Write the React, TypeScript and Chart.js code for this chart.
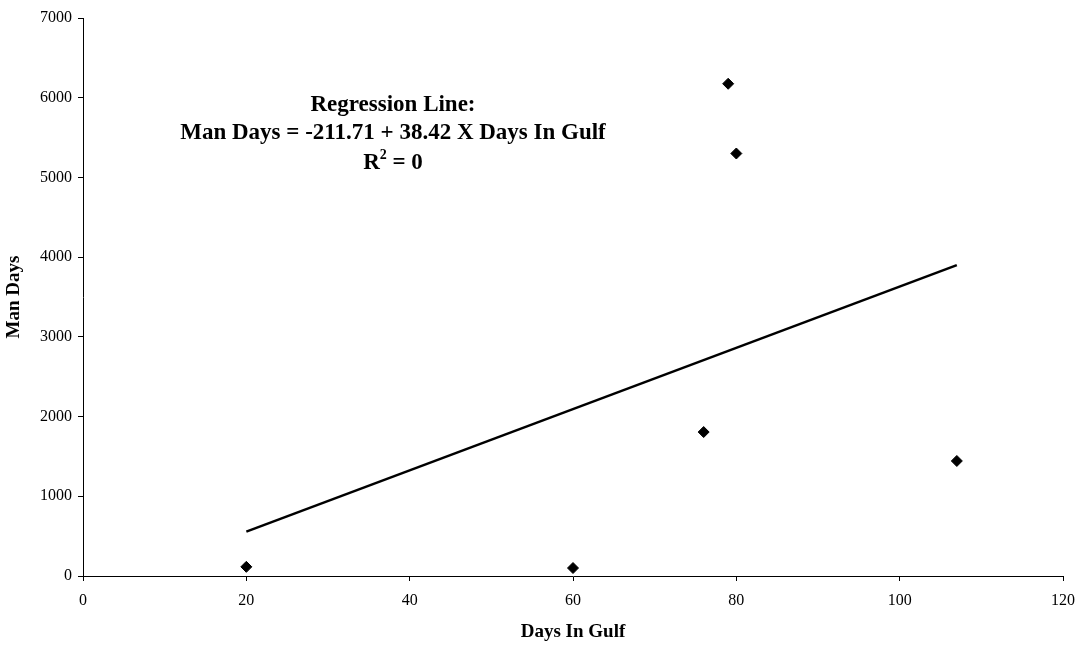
import React, { useEffect, useRef } from "react";
import { Chart, registerables } from "chart.js";

Chart.register(...registerables);

const daysInGulf = [20, 60, 76, 79, 80, 107];
const manDays = [115, 100, 1806, 6175, 5300, 1443];
const intercept = -211.71;
const slope = 38.42;
const lineXs = [20, 107];
const annotationLines = ["Regression Line:", "Man Days = -211.71 + 38.42 X Days In Gulf"];
const rSquaredText = ["R", "2", " = 0"];

const FONT = "'Liberation Serif', 'Times New Roman', serif";

const annotationPlugin = {
  id: "regAnnotation",
  afterDraw(chart: any) {
    const ctx = chart.ctx;
    const cx = 393;
    ctx.save();
    ctx.fillStyle = "#000";
    ctx.textAlign = "center";
    ctx.textBaseline = "middle";
    const big = `bold 23px ${FONT}`;
    const small = `bold 14px ${FONT}`;
    ctx.font = big;
    ctx.fillText(annotationLines[0], cx, 105);
    ctx.fillText(annotationLines[1], cx, 133);
    ctx.font = big;
    const wR = ctx.measureText(rSquaredText[0]).width;
    const wEq = ctx.measureText(rSquaredText[2]).width;
    ctx.font = small;
    const w2 = ctx.measureText(rSquaredText[1]).width;
    let x = cx - (wR + w2 + wEq) / 2;
    ctx.textAlign = "left";
    ctx.font = big;
    ctx.fillText(rSquaredText[0], x, 163);
    x += wR;
    ctx.font = small;
    ctx.fillText(rSquaredText[1], x, 155);
    x += w2;
    ctx.font = big;
    ctx.fillText(rSquaredText[2], x, 163);
    ctx.restore();
  },
};

export default function App() {
  const ref = useRef<HTMLCanvasElement>(null);
  useEffect(() => {
    if (!ref.current) return;
    const chart = new Chart(ref.current, {
      type: "scatter",
      data: {
        datasets: [
          {
            type: "scatter",
            label: "Man Days",
            data: daysInGulf.map((d, i) => ({ x: d, y: manDays[i] })),
            pointStyle: "rectRot",
            pointRadius: 5.5,
            backgroundColor: "#000",
            borderColor: "#000",
            borderWidth: 1,
          },
          {
            type: "line",
            label: "Regression",
            data: lineXs.map((x) => ({ x, y: intercept + slope * x })),
            borderColor: "#000",
            borderWidth: 2.5,
            pointRadius: 0,
            fill: false,
          } as any,
        ],
      },
      options: {
        animation: false,
        responsive: false,
        layout: { padding: { top: 18, right: 22, left: 0, bottom: 0 } },
        plugins: {
          legend: { display: false },
          tooltip: { enabled: false },
        },
        scales: {
          x: {
            type: "linear",
            min: 0,
            max: 120,
            afterFit: (s: any) => {
              s.height = 70;
            },
            ticks: {
              stepSize: 20,
              color: "#000",
              font: { family: FONT, size: 16 },
              padding: 10,
              callback: (v: any) => String(v),
            },
            grid: {
              drawOnChartArea: false,
              drawTicks: true,
              tickLength: 5,
              color: "#000",
            },
            border: { color: "#000", width: 1 },
            title: {
              display: true,
              text: "Days In Gulf",
              color: "#000",
              font: { family: FONT, size: 19, weight: "bold" },
              padding: { top: 4, bottom: 3 },
            },
          },
          y: {
            type: "linear",
            min: 0,
            max: 7000,
            afterFit: (s: any) => {
              s.width = 83;
            },
            ticks: {
              stepSize: 1000,
              color: "#000",
              font: { family: FONT, size: 16 },
              padding: 6,
              callback: (v: any) => String(v),
            },
            grid: {
              drawOnChartArea: false,
              drawTicks: true,
              tickLength: 5,
              color: "#000",
            },
            border: { color: "#000", width: 1 },
            title: {
              display: true,
              text: "Man Days",
              color: "#000",
              font: { family: FONT, size: 19, weight: "bold" },
              padding: { top: 3, bottom: 0 },
            },
          },
        },
      },
      plugins: [annotationPlugin],
    });
    return () => chart.destroy();
  }, []);
  return (
    <div style={{ position: "fixed", left: 0, top: 0, width: 1085, height: 646, background: "#fff" }}>
      <canvas ref={ref} width={1085} height={646} />
    </div>
  );
}
